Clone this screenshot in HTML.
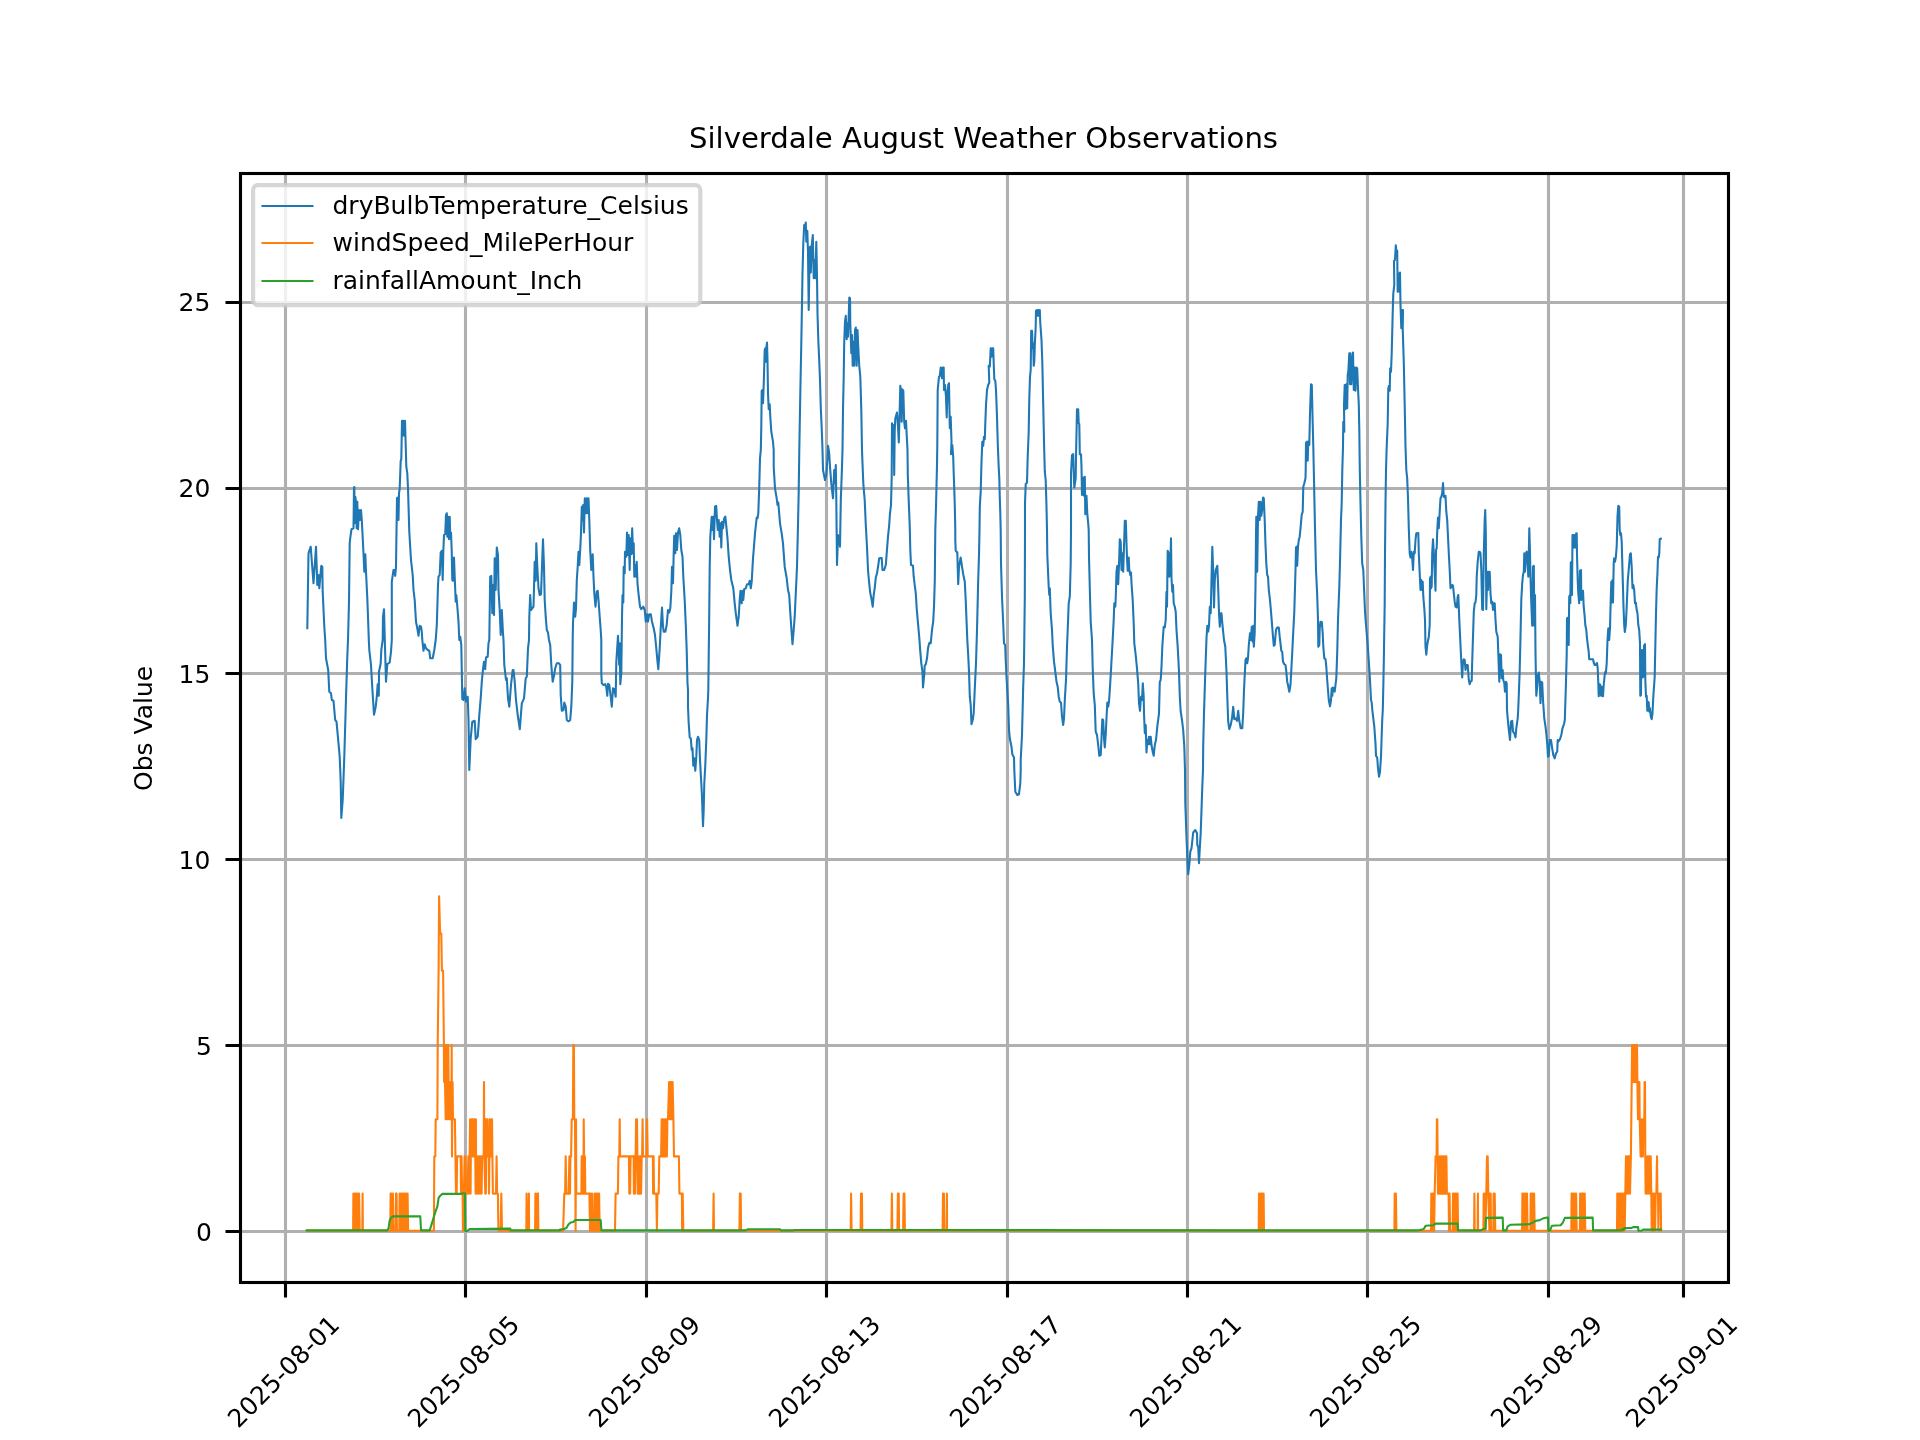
<!DOCTYPE html>
<html><head><meta charset="utf-8"><title>Silverdale August Weather Observations</title>
<style>html,body{margin:0;padding:0;background:#fff}svg{display:block;will-change:transform}</style></head>
<body>
<svg width="1920" height="1440" viewBox="0 0 1920 1440" font-family="DejaVu Sans, Liberation Sans, sans-serif">
<rect width="1920" height="1440" fill="#fff"/>
<clipPath id="c"><rect x="240.5" y="173.5" width="1488.0" height="1109.0"/></clipPath>
<path d="M285.5 173.5V1282.5M465.5 173.5V1282.5M646.5 173.5V1282.5M826.5 173.5V1282.5M1007.5 173.5V1282.5M1187.5 173.5V1282.5M1367.5 173.5V1282.5M1548.5 173.5V1282.5M1683.5 173.5V1282.5M240.5 1231.5H1728.5M240.5 1045.5H1728.5M240.5 859.5H1728.5M240.5 673.5H1728.5M240.5 488.5H1728.5M240.5 302.5H1728.5" stroke="#b0b0b0" stroke-width="3.1" fill="none"/>
<g clip-path="url(#c)" fill="none" stroke-width="2.08" stroke-linejoin="round" stroke-linecap="square">
<polyline id="blue" stroke="#1f77b4" points="307.3,628.3 308.5,553.3 310.7,546.7 313.5,583.3 316.0,546.7 317.3,585.0 318.5,575.0 319.3,588.3 321.3,565.8 322.3,566.7 322.7,591.7 324.3,626.7 325.2,640.0 326.0,658.3 328.2,670.0 329.3,691.7 331.0,693.3 331.8,700.0 333.5,700.8 335.2,720.0 336.5,721.7 338.5,743.3 339.7,756.7 340.7,781.7 341.3,818.0 342.7,800.0 344.3,756.7 346.0,698.3 347.3,656.7 348.0,640.0 349.0,601.7 349.7,543.3 350.2,538.3 351.5,529.2 353.5,528.3 354.0,487.5 354.3,487.0 354.7,523.3 355.3,496.7 356.0,501.7 356.7,528.3 357.3,501.7 358.0,529.2 359.0,510.0 360.0,520.0 361.0,510.0 361.8,520.0 363.5,553.3 364.3,571.7 365.3,554.2 366.0,571.7 367.3,598.3 368.0,616.7 368.8,640.0 369.3,650.0 371.0,665.0 372.3,688.3 374.0,714.7 375.7,706.7 376.8,696.7 377.7,684.2 378.8,695.8 379.0,671.7 380.7,663.3 381.3,650.0 382.7,640.0 383.0,616.7 384.0,609.2 384.8,640.0 386.0,681.7 387.3,664.2 389.7,662.5 391.0,651.7 391.8,640.0 391.8,581.7 393.5,570.0 394.3,570.0 395.2,575.8 396.0,566.7 396.3,545.0 397.0,498.3 397.7,497.5 398.5,520.0 399.0,493.3 399.7,488.3 400.7,460.8 401.3,459.2 402.0,420.8 402.7,435.8 403.5,420.8 404.3,435.8 405.0,420.8 405.7,445.0 406.3,466.7 407.3,473.3 408.0,488.3 409.3,531.7 410.2,546.7 411.0,560.0 412.7,575.0 413.5,590.0 414.7,600.0 416.0,621.7 417.3,628.3 418.5,635.8 419.7,625.8 421.0,626.7 421.8,631.7 422.3,640.0 423.5,650.8 424.7,644.2 426.0,648.3 427.7,650.0 429.3,650.8 430.2,658.3 432.7,658.3 434.3,650.0 435.7,640.0 436.8,625.0 438.0,585.0 438.5,576.7 439.7,575.0 440.7,552.5 441.8,550.8 442.7,580.0 443.3,551.7 444.0,535.0 445.2,534.2 446.0,515.0 446.8,513.3 447.3,536.7 448.0,516.7 449.0,539.2 449.7,516.7 450.3,538.3 451.0,532.5 451.7,550.0 452.3,580.0 453.0,580.8 454.0,557.5 454.7,576.7 455.7,601.7 456.3,595.0 457.0,602.5 458.5,621.7 459.3,640.0 460.2,636.7 461.3,645.0 462.3,699.2 463.5,700.0 464.7,688.3 466.0,701.7 467.7,696.7 468.5,720.0 469.3,770.0 470.7,738.3 472.3,721.7 474.7,720.8 475.7,739.2 477.7,736.7 478.5,726.7 479.3,715.0 480.7,698.3 481.8,681.7 483.0,669.2 484.0,661.7 485.2,669.2 486.0,657.5 487.7,656.7 488.5,643.3 489.3,640.0 490.2,576.7 491.3,575.8 492.3,613.3 493.0,585.0 494.0,615.0 494.7,558.3 495.7,590.0 496.8,547.5 498.0,555.0 498.5,590.0 499.7,610.0 500.7,635.0 501.8,610.0 503.0,633.3 503.5,640.0 504.3,665.0 506.0,680.0 506.8,678.3 508.0,698.3 509.3,706.7 511.0,685.0 512.7,670.0 513.5,670.0 514.7,681.7 516.0,700.0 517.7,715.0 519.8,729.2 521.8,703.3 524.0,698.3 525.7,678.3 526.8,676.7 528.0,648.3 529.0,640.0 529.3,616.7 530.2,595.0 531.0,610.0 532.3,608.3 533.5,606.7 534.7,561.7 535.7,580.8 536.3,543.3 537.3,566.7 538.5,588.3 539.7,595.0 541.0,594.2 542.0,566.7 543.0,539.2 544.0,566.7 544.7,600.0 545.7,616.7 546.8,630.0 548.0,632.5 549.0,640.0 550.2,645.0 551.3,665.0 552.7,681.7 554.0,675.8 555.2,668.3 556.8,663.3 559.0,663.3 560.2,665.0 560.7,695.0 561.8,710.8 563.5,710.0 564.3,702.5 565.7,706.7 566.8,720.0 568.5,721.3 570.2,720.0 571.3,706.7 572.3,681.7 572.7,640.0 573.0,623.3 574.0,602.5 575.2,616.7 576.0,608.3 576.8,580.0 577.7,566.7 578.5,551.7 579.3,565.0 580.2,550.0 581.0,533.3 581.8,506.7 582.7,520.0 583.2,505.0 584.0,532.5 584.8,498.3 586.0,513.3 586.8,498.3 587.7,513.3 588.5,498.3 589.3,520.0 590.2,550.0 591.3,570.0 592.7,554.2 593.5,576.7 594.3,593.3 595.5,606.7 596.8,591.7 597.7,590.8 598.5,600.0 599.7,616.7 600.7,630.0 601.3,640.0 601.3,673.3 601.8,683.3 603.5,685.0 605.2,684.2 606.3,687.5 607.3,695.8 608.0,683.7 609.3,685.0 610.7,696.7 611.8,706.7 613.0,688.3 614.3,689.2 615.7,696.7 616.3,661.7 618.0,635.8 619.2,665.0 619.7,643.3 620.3,684.2 621.3,673.3 622.0,616.7 622.5,595.0 623.3,602.5 623.7,566.7 624.7,573.3 625.0,551.7 626.3,556.7 627.0,532.5 628.0,555.0 628.7,535.0 629.7,570.0 630.3,538.3 631.3,554.2 632.2,528.3 633.0,553.3 633.7,543.3 634.3,576.7 635.3,565.0 636.0,576.7 636.7,561.7 637.5,583.3 638.3,591.7 640.0,606.7 641.3,609.2 643.3,606.7 644.7,610.0 645.8,621.7 647.0,614.2 648.0,621.7 649.2,614.2 650.8,614.2 652.0,621.7 653.7,628.3 655.0,635.0 656.3,648.3 657.5,661.7 658.3,669.2 659.7,648.3 660.8,626.7 662.0,607.5 663.0,626.7 663.7,631.7 665.3,631.7 666.7,625.0 668.0,610.0 669.2,612.5 670.3,608.3 671.3,591.7 672.0,566.7 673.0,583.3 673.7,553.3 674.2,535.8 675.3,553.3 676.0,533.3 677.0,550.0 678.0,532.5 679.2,528.3 680.3,535.0 681.3,550.0 682.5,556.7 683.3,576.7 684.7,600.0 685.8,625.0 686.7,650.0 687.5,683.3 688.0,690.0 688.0,706.7 688.7,723.3 689.7,737.5 690.8,738.3 691.7,750.0 692.5,748.3 693.3,765.8 694.2,758.3 695.3,770.8 696.3,756.7 697.0,740.0 698.0,736.7 699.2,740.0 700.0,760.0 701.3,783.3 702.0,796.7 703.0,826.3 703.7,810.0 704.3,783.3 705.3,765.0 706.3,740.0 707.0,715.0 708.0,698.3 708.3,690.0 709.2,616.7 709.7,566.7 710.3,536.7 711.7,516.7 712.5,530.0 713.3,516.7 714.0,539.2 715.0,506.7 716.2,505.8 717.0,520.0 717.8,530.0 718.7,520.0 719.7,536.7 720.5,523.3 721.3,547.5 722.0,521.7 723.0,528.3 724.2,518.3 725.3,516.7 726.2,525.0 727.5,538.3 728.7,556.7 730.0,570.0 731.3,580.0 733.3,588.3 734.7,603.3 735.8,613.3 737.5,625.8 738.7,616.7 739.7,600.0 740.5,590.8 741.7,603.3 742.5,590.8 743.3,600.0 744.2,589.2 745.8,588.3 747.0,584.2 748.7,584.2 749.7,580.8 750.8,588.3 751.7,581.7 753.0,558.3 753.7,550.0 755.0,533.3 756.7,517.5 757.5,518.3 758.3,513.3 759.2,488.3 760.0,458.3 760.8,450.0 761.3,426.7 761.7,390.8 762.3,390.0 763.0,403.3 763.7,385.0 764.7,350.0 765.3,348.3 765.8,361.7 766.3,348.3 767.0,342.5 767.5,360.0 768.0,393.3 768.7,409.2 769.7,404.2 770.3,416.7 771.3,431.7 773.0,441.7 773.7,450.0 773.7,466.7 775.0,488.3 776.7,498.3 777.5,505.0 778.3,502.5 780.0,523.3 781.7,533.3 783.0,543.3 784.7,566.7 786.7,578.3 788.0,590.0 789.2,595.0 790.3,613.3 791.7,633.3 792.5,644.2 793.3,635.0 794.7,616.7 795.8,593.3 797.0,566.7 798.0,525.0 798.7,491.7 799.3,450.0 799.7,426.7 800.3,393.3 801.3,343.3 802.0,303.3 802.5,273.3 803.3,243.3 804.2,225.0 805.0,226.7 805.8,222.5 806.3,241.7 807.3,230.8 808.0,251.7 808.7,310.0 809.3,273.3 810.0,246.7 810.8,272.5 811.7,245.8 812.8,235.0 813.7,278.3 814.7,260.0 815.3,278.3 816.3,241.7 817.0,276.7 817.5,313.3 818.3,340.0 819.2,360.0 820.0,380.0 820.8,408.3 821.7,428.3 822.5,450.0 823.0,470.0 825.0,480.0 826.3,475.0 827.5,458.3 828.0,445.8 828.7,450.0 829.2,453.3 830.0,466.7 831.3,483.3 833.0,498.3 834.2,470.0 835.0,483.3 835.8,465.0 836.3,500.0 837.0,565.0 838.0,535.0 839.2,536.7 840.0,546.7 840.8,500.0 842.0,466.7 842.5,450.0 843.0,410.0 843.7,376.7 844.2,343.3 845.0,321.7 845.8,315.8 846.7,339.2 847.5,323.3 848.0,336.7 848.7,316.7 849.3,297.5 850.0,298.3 850.3,323.3 851.3,353.3 852.0,335.0 852.7,365.8 853.7,341.7 854.3,365.8 855.0,330.0 855.8,327.5 856.7,365.8 857.5,330.0 858.3,348.3 859.2,365.0 860.3,376.7 861.3,410.0 862.0,450.0 862.3,458.3 863.3,483.3 864.7,500.0 865.8,525.0 867.0,546.7 868.0,570.0 869.2,583.3 870.3,593.3 871.7,600.0 872.7,606.7 873.7,595.0 874.7,588.3 875.8,577.5 877.0,573.3 878.3,565.0 879.2,558.3 881.7,558.0 882.5,570.0 884.2,570.0 885.8,565.0 886.7,553.3 888.0,536.7 889.2,525.0 890.0,513.3 891.0,505.0 891.7,476.7 892.0,423.3 893.0,443.3 893.7,425.0 894.2,475.0 894.7,431.7 895.3,418.3 896.3,415.0 897.0,412.5 898.0,426.7 898.8,442.5 899.7,410.0 900.3,385.8 901.0,390.0 901.7,421.7 902.3,389.2 903.3,390.8 904.2,421.7 905.0,428.3 906.0,420.8 906.7,435.0 907.5,450.0 907.8,475.0 908.7,500.0 909.7,525.0 910.3,550.0 911.0,565.0 913.0,565.8 913.7,576.7 914.7,585.0 915.8,593.3 916.7,608.3 918.0,623.3 919.2,636.7 920.3,651.7 921.3,663.3 922.5,671.7 923.0,687.5 924.2,675.0 924.7,665.8 925.8,664.2 927.0,658.3 928.0,648.3 929.2,643.3 930.0,642.5 930.7,643.3 932.0,630.0 933.2,621.7 934.0,606.7 934.8,580.0 935.3,530.0 936.0,506.7 937.0,465.0 937.3,445.8 937.7,390.0 939.0,376.7 939.8,375.8 940.7,367.5 942.0,378.3 942.7,367.5 943.7,367.5 944.0,390.0 945.0,385.0 946.0,396.7 946.7,417.5 947.3,396.7 948.2,385.0 949.0,383.3 949.3,400.0 949.8,428.3 950.7,416.7 951.5,441.7 951.0,454.2 952.3,445.0 953.2,456.7 953.7,473.3 954.3,490.0 954.8,506.7 955.3,530.0 955.3,540.0 955.7,550.8 957.3,552.5 958.2,584.2 959.0,566.7 960.7,557.5 962.0,566.7 963.2,574.2 964.8,581.7 965.7,600.0 966.5,620.0 967.3,640.0 968.2,655.0 969.0,671.7 969.8,696.7 970.7,705.0 971.5,724.2 972.7,720.0 973.7,713.3 974.8,688.3 976.0,663.3 977.0,630.0 978.2,580.0 979.0,555.0 979.5,530.0 979.8,506.7 980.7,491.7 981.5,461.7 982.3,441.7 983.2,445.8 984.0,436.7 984.8,439.2 985.3,423.3 986.0,405.0 987.0,390.0 988.2,385.0 989.3,382.5 988.7,365.8 989.8,366.7 990.7,348.3 991.5,356.7 992.3,348.3 993.2,348.3 993.7,363.3 994.3,379.2 995.3,380.8 996.0,390.0 997.0,416.7 997.8,445.0 998.7,466.7 999.3,478.3 999.8,498.3 1000.3,513.3 1000.7,530.0 1001.0,563.3 1002.0,596.7 1003.2,623.3 1004.0,643.3 1005.2,645.0 1005.7,660.0 1006.5,676.7 1008.2,705.0 1009.0,730.0 1009.8,738.3 1011.5,746.7 1012.3,754.2 1014.0,757.5 1014.3,770.0 1015.3,791.7 1017.3,795.0 1019.0,794.2 1020.3,783.3 1020.7,770.0 1020.7,760.0 1022.0,735.0 1023.2,686.7 1024.0,663.3 1024.8,596.7 1025.0,530.0 1025.0,503.3 1025.7,484.2 1027.0,482.5 1027.7,456.7 1028.7,431.7 1029.3,398.3 1030.0,376.7 1030.7,370.0 1031.2,330.8 1032.0,330.8 1032.7,348.3 1033.2,343.3 1033.7,365.8 1034.3,361.7 1034.8,345.0 1035.7,326.7 1036.0,310.8 1037.0,310.0 1037.7,315.8 1038.2,310.0 1039.0,315.8 1039.8,310.0 1040.3,323.3 1041.5,340.0 1042.3,361.7 1043.2,403.3 1044.0,441.7 1044.8,471.7 1045.7,480.0 1046.5,506.7 1047.0,530.0 1047.3,555.0 1048.7,586.7 1049.3,595.0 1049.8,588.3 1050.7,613.3 1052.0,630.0 1052.7,645.0 1054.0,661.7 1055.3,671.7 1056.5,681.7 1057.7,686.7 1058.7,696.7 1059.8,701.7 1061.0,702.5 1062.0,716.7 1063.2,725.0 1064.0,718.3 1064.8,700.0 1066.0,680.0 1067.0,646.7 1067.7,630.0 1068.7,603.3 1069.8,596.7 1070.7,563.3 1071.0,530.0 1071.0,473.3 1072.0,455.0 1073.2,454.2 1073.7,473.3 1074.3,487.5 1075.7,478.3 1076.0,456.7 1076.5,433.3 1077.0,409.2 1078.2,409.2 1078.7,423.3 1079.3,424.2 1079.8,454.2 1081.0,454.2 1081.5,466.7 1082.0,495.0 1083.2,477.5 1084.0,495.8 1084.8,476.7 1085.3,514.2 1086.5,495.8 1087.3,514.2 1088.2,523.3 1088.7,530.0 1089.0,556.7 1089.8,588.3 1090.7,621.7 1092.0,640.0 1092.7,668.3 1093.7,693.3 1094.8,705.0 1095.7,731.7 1097.0,735.0 1098.2,745.0 1099.3,755.8 1100.7,755.0 1101.5,738.3 1102.3,719.2 1103.2,720.0 1104.0,738.3 1104.8,747.5 1105.7,735.0 1106.5,718.3 1107.3,702.5 1108.2,706.7 1109.0,701.7 1109.8,690.0 1111.0,670.0 1112.3,646.7 1113.7,620.0 1114.3,603.3 1115.3,606.7 1115.7,599.2 1116.5,571.7 1117.3,565.8 1118.2,584.2 1119.0,565.0 1119.8,539.2 1120.7,541.7 1121.5,570.0 1122.3,553.3 1123.2,571.7 1124.0,546.7 1124.8,520.8 1125.8,520.8 1126.5,543.3 1127.0,558.3 1127.7,570.8 1128.7,557.5 1129.3,570.0 1130.3,575.0 1131.0,572.5 1131.5,583.3 1132.7,600.0 1133.7,623.3 1134.3,643.3 1135.7,655.0 1137.0,668.3 1138.2,683.3 1139.0,703.3 1140.0,710.8 1141.0,696.7 1142.0,700.0 1142.8,683.3 1143.7,696.7 1144.0,713.3 1144.8,733.3 1145.7,725.0 1146.5,752.5 1147.3,740.0 1148.2,744.2 1149.0,736.7 1149.8,744.2 1150.7,736.7 1151.5,745.0 1152.7,751.7 1153.7,755.8 1154.8,745.0 1156.0,740.0 1157.3,726.7 1159.0,713.3 1159.8,681.7 1160.7,680.0 1161.5,666.7 1162.3,646.7 1163.7,626.7 1164.8,627.5 1165.7,620.0 1166.5,591.7 1167.0,606.7 1167.7,550.8 1168.7,553.3 1169.3,576.7 1170.3,565.0 1171.0,538.3 1171.5,578.3 1172.3,591.7 1173.0,585.0 1173.7,603.3 1174.8,606.7 1175.7,611.7 1176.5,630.0 1177.7,646.7 1179.0,671.7 1179.8,696.7 1180.7,711.7 1182.0,720.0 1183.2,730.0 1184.3,746.7 1185.0,770.0 1185.3,803.3 1186.5,836.7 1187.3,856.7 1188.2,874.2 1189.3,865.0 1190.3,851.7 1191.5,848.3 1193.2,832.5 1195.3,830.0 1197.0,833.3 1197.3,845.0 1198.2,846.7 1199.0,863.3 1199.8,848.3 1200.7,833.3 1201.5,810.0 1202.3,786.7 1203.0,770.0 1203.2,746.7 1204.0,713.3 1205.3,671.7 1206.5,638.3 1207.3,625.8 1208.2,631.7 1209.0,625.8 1209.8,606.7 1210.7,613.3 1211.5,580.0 1212.3,546.7 1213.2,571.7 1214.0,607.5 1214.8,580.0 1215.7,570.0 1217.3,565.8 1218.2,588.3 1219.0,613.3 1219.8,626.7 1220.7,613.3 1221.5,613.3 1222.3,623.3 1224.0,640.0 1225.3,646.7 1226.5,671.7 1227.3,696.7 1228.2,721.7 1229.3,729.2 1230.7,725.0 1232.0,718.3 1233.2,706.7 1234.3,719.2 1235.7,718.3 1237.0,720.8 1238.2,710.8 1239.3,720.8 1240.7,728.3 1242.3,728.3 1243.2,713.3 1244.0,690.0 1245.5,660.0 1246.3,658.3 1247.2,663.3 1248.0,658.3 1248.8,645.0 1250.0,633.3 1251.0,640.0 1251.7,626.7 1252.7,641.7 1253.3,625.8 1253.8,646.7 1254.7,633.3 1255.5,586.7 1256.0,536.7 1256.3,516.7 1257.2,571.7 1258.0,516.7 1258.8,501.7 1259.7,520.0 1260.5,501.7 1261.3,515.8 1262.2,510.0 1263.0,497.5 1263.8,498.3 1264.7,520.0 1265.5,545.0 1266.3,563.3 1267.2,575.0 1268.0,576.7 1268.8,590.0 1270.0,600.0 1271.0,611.7 1272.2,626.7 1273.0,636.7 1273.8,645.8 1274.7,645.0 1276.0,630.0 1277.2,627.5 1278.8,627.5 1279.7,636.7 1280.5,643.3 1281.3,650.8 1282.2,651.7 1283.0,661.7 1284.3,664.2 1285.5,665.0 1286.3,671.7 1287.2,681.7 1288.0,685.0 1289.3,691.7 1290.5,685.0 1291.3,670.0 1292.2,653.3 1293.0,636.7 1294.3,611.7 1295.5,570.0 1296.0,547.5 1296.7,546.7 1297.2,565.8 1298.0,546.7 1298.8,540.0 1299.7,536.7 1300.5,528.3 1301.7,515.0 1302.7,511.7 1303.3,486.7 1304.3,483.3 1305.5,478.3 1305.7,470.0 1306.0,442.5 1307.2,441.7 1307.7,460.8 1308.3,441.7 1309.3,445.0 1310.0,413.3 1311.0,384.2 1311.8,385.0 1312.7,423.3 1313.3,446.7 1313.8,470.0 1314.3,495.0 1315.0,528.3 1316.0,570.0 1317.2,595.0 1318.0,620.0 1318.3,646.7 1319.3,645.0 1319.7,628.3 1320.5,621.7 1321.8,622.0 1322.7,633.3 1323.3,646.7 1324.3,658.3 1325.5,659.2 1326.3,666.7 1327.2,680.0 1328.0,690.0 1328.8,700.0 1330.0,706.3 1331.0,700.0 1331.7,688.3 1332.3,695.8 1333.0,687.5 1333.8,688.3 1334.7,691.7 1335.5,685.0 1336.3,678.3 1337.2,653.3 1338.0,620.0 1339.3,586.7 1340.0,561.7 1341.0,520.0 1341.7,503.3 1342.3,470.0 1343.0,446.7 1343.3,421.7 1344.3,431.7 1344.0,405.0 1344.7,385.0 1345.5,409.2 1346.3,384.2 1347.2,408.3 1347.7,375.0 1348.3,371.7 1349.3,353.3 1350.0,384.2 1350.5,353.3 1351.3,384.2 1352.2,363.3 1353.0,352.5 1353.8,390.0 1354.7,367.5 1355.5,390.8 1356.3,367.5 1357.2,368.3 1358.0,388.3 1358.8,405.0 1359.3,430.0 1359.8,470.0 1360.5,503.3 1361.3,536.7 1362.2,563.3 1363.3,570.0 1364.3,595.0 1365.0,611.7 1366.3,628.3 1367.7,645.0 1368.8,661.7 1370.0,680.0 1371.0,700.0 1371.7,702.5 1372.3,710.0 1373.3,718.3 1374.3,726.7 1375.5,743.3 1376.0,755.8 1377.2,757.5 1378.0,768.3 1379.0,776.7 1380.0,771.7 1381.0,756.7 1381.7,735.0 1382.3,718.3 1382.8,710.0 1383.3,686.7 1383.8,661.7 1384.7,603.3 1385.0,553.3 1385.5,503.3 1386.0,470.0 1386.7,446.7 1387.7,423.3 1388.3,388.3 1389.0,385.8 1389.7,390.8 1390.2,368.3 1391.0,371.7 1391.7,353.3 1392.7,313.3 1393.3,293.3 1394.3,285.0 1394.0,260.8 1395.0,260.0 1395.8,245.3 1396.3,250.0 1397.2,250.8 1397.7,291.7 1398.3,273.3 1399.3,291.7 1400.0,272.5 1400.5,305.0 1401.3,328.3 1402.2,310.0 1403.0,310.0 1402.7,328.3 1403.8,363.3 1404.7,405.0 1405.5,446.7 1406.3,470.0 1407.2,478.3 1408.0,498.3 1408.8,528.3 1409.7,553.3 1410.5,557.5 1411.3,551.7 1412.2,557.5 1413.0,570.0 1413.8,551.7 1414.7,553.3 1415.5,540.0 1416.3,533.3 1418.3,533.0 1418.8,553.3 1419.7,573.3 1420.5,590.0 1421.3,580.0 1422.2,590.0 1422.7,581.7 1423.3,596.7 1424.3,608.3 1425.0,620.0 1425.5,646.7 1426.3,654.7 1427.2,645.0 1428.0,640.8 1428.8,636.7 1429.7,625.0 1430.0,578.3 1430.7,576.7 1431.0,588.3 1431.7,586.7 1432.2,553.3 1433.0,539.2 1433.8,553.3 1434.7,573.3 1435.5,590.8 1436.0,550.0 1436.7,548.3 1437.2,531.7 1438.0,517.5 1438.8,528.3 1439.7,511.7 1440.5,498.3 1441.3,496.7 1442.2,493.3 1443.0,483.0 1443.8,496.7 1444.7,497.5 1445.5,495.8 1446.3,511.7 1447.2,520.0 1448.0,536.7 1448.8,553.3 1449.7,570.0 1450.5,588.3 1451.3,586.7 1452.2,585.0 1453.0,585.8 1453.8,593.3 1454.7,601.7 1455.5,606.7 1456.7,607.5 1457.7,596.7 1458.3,595.0 1459.3,620.0 1460.5,645.0 1461.3,661.7 1462.2,677.5 1463.0,661.7 1463.8,659.2 1464.7,660.0 1465.5,670.0 1466.3,665.0 1467.7,665.0 1468.8,680.0 1469.7,684.2 1470.5,681.7 1471.7,680.8 1472.2,661.7 1473.0,636.7 1473.8,611.7 1474.7,603.3 1475.5,602.5 1476.3,595.0 1476.7,576.7 1477.7,561.7 1478.8,551.7 1479.7,551.7 1480.5,553.3 1481.3,570.0 1482.2,609.2 1483.0,610.0 1483.8,553.3 1484.7,520.0 1485.2,510.0 1485.8,531.7 1486.3,609.2 1487.2,571.7 1488.0,590.0 1488.8,571.7 1489.7,571.7 1490.5,593.3 1491.3,603.3 1492.2,601.7 1493.0,610.0 1493.8,603.3 1494.7,603.3 1495.5,620.0 1496.3,631.7 1497.7,636.7 1498.3,653.3 1499.3,681.7 1500.0,654.2 1501.0,655.0 1501.7,678.3 1502.7,670.0 1503.3,680.0 1504.3,683.3 1505.0,691.7 1506.0,681.7 1506.7,683.3 1507.0,710.0 1507.7,718.3 1508.8,730.0 1510.0,740.0 1511.0,721.7 1512.2,720.8 1513.0,731.7 1514.3,733.3 1515.5,737.5 1516.3,728.3 1517.7,718.3 1518.2,710.0 1518.8,695.0 1519.7,670.0 1520.5,636.7 1521.3,600.0 1522.2,583.3 1523.0,575.0 1523.8,571.7 1524.3,553.3 1525.0,571.7 1526.0,553.3 1526.7,551.7 1527.7,565.0 1528.3,576.7 1529.3,528.3 1530.0,553.3 1530.5,576.7 1531.3,603.3 1532.2,625.8 1533.0,566.7 1533.8,565.8 1534.3,625.8 1535.0,595.0 1535.5,653.3 1536.3,695.8 1537.2,686.7 1538.0,675.0 1538.8,672.5 1539.7,681.7 1540.5,703.3 1541.3,681.7 1542.2,682.5 1543.0,700.0 1543.7,710.0 1544.3,718.3 1545.5,726.7 1546.3,733.3 1547.2,743.3 1548.0,756.7 1548.8,755.8 1549.7,740.0 1551.0,740.0 1552.2,748.3 1553.3,755.0 1554.7,758.3 1556.0,753.3 1557.2,751.7 1557.7,740.0 1558.3,741.7 1560.0,739.2 1561.3,735.0 1562.5,728.3 1564.2,723.3 1564.8,720.0 1565.8,688.3 1566.7,655.0 1567.0,618.3 1568.0,617.5 1568.7,645.0 1569.2,596.7 1570.0,595.0 1570.3,603.3 1570.8,562.5 1571.7,561.7 1572.0,595.0 1572.5,535.0 1573.3,535.0 1573.8,547.5 1574.7,535.0 1575.3,547.5 1576.2,533.3 1576.7,533.3 1577.0,555.0 1577.7,580.0 1578.3,593.3 1579.2,603.3 1580.0,570.8 1581.0,570.0 1581.3,600.0 1582.0,590.8 1583.0,590.8 1583.7,606.7 1584.7,616.7 1585.3,625.0 1586.3,630.0 1587.0,638.3 1588.0,646.7 1588.7,651.7 1589.2,659.2 1590.8,659.2 1593.0,659.2 1593.7,662.5 1594.7,665.0 1595.8,665.0 1597.0,663.0 1597.7,668.3 1598.3,683.3 1598.7,696.3 1599.7,684.2 1600.3,685.0 1601.0,695.8 1601.7,686.7 1602.2,688.3 1603.0,696.3 1603.7,685.0 1604.7,675.0 1605.3,671.7 1605.8,673.3 1606.7,663.3 1607.5,640.0 1608.3,628.3 1609.2,640.0 1610.0,628.3 1610.8,596.7 1611.3,581.7 1612.0,602.5 1612.5,580.0 1613.0,602.5 1613.7,563.3 1614.2,558.3 1615.0,561.7 1615.8,557.5 1616.7,546.7 1617.5,516.7 1618.3,505.8 1619.2,506.7 1619.7,530.0 1620.3,535.0 1621.0,533.3 1621.7,541.7 1622.3,563.3 1623.0,588.3 1623.5,606.7 1624.2,625.0 1624.8,632.0 1625.8,625.0 1626.7,606.7 1627.8,580.0 1629.0,566.7 1630.0,554.2 1630.8,553.3 1631.7,566.7 1632.5,588.3 1633.3,585.0 1634.2,590.0 1635.0,603.3 1635.8,602.5 1636.7,610.0 1637.5,613.3 1638.3,625.0 1639.2,630.0 1640.0,643.3 1640.3,695.8 1641.0,695.0 1641.3,650.8 1642.0,650.0 1642.7,677.5 1643.3,676.7 1644.0,645.8 1645.0,644.2 1645.3,680.0 1646.0,696.7 1646.7,695.8 1647.3,710.8 1648.0,701.7 1648.7,702.5 1649.3,711.7 1650.0,708.3 1650.8,716.7 1651.7,719.2 1652.5,713.3 1653.3,696.7 1654.7,676.7 1655.3,646.7 1656.0,613.3 1656.7,588.3 1657.5,571.7 1658.0,556.7 1658.7,557.5 1659.3,553.3 1659.7,539.2 1660.8,538.7"/>
<polyline id="orange" stroke="#ff7f0e" points="307.4,1230.7 353.1,1230.7 353.4,1193.6 354.0,1230.7 354.6,1193.6 355.1,1230.7 355.7,1193.6 356.3,1230.7 356.9,1193.6 357.4,1230.7 358.0,1193.6 358.6,1230.7 359.1,1193.6 359.7,1230.7 360.1,1230.7 362.3,1230.7 362.6,1193.6 362.9,1230.7 390.3,1230.7 390.6,1193.6 391.1,1230.7 391.7,1193.6 392.3,1230.7 392.9,1193.6 393.6,1230.7 395.7,1230.7 396.0,1193.6 396.3,1230.7 396.6,1193.6 396.9,1230.7 399.3,1230.7 399.6,1193.6 400.1,1230.7 400.7,1193.6 401.3,1230.7 401.9,1193.6 402.4,1230.7 403.0,1193.6 403.6,1230.7 404.1,1193.6 404.7,1230.7 405.3,1193.6 405.9,1230.7 406.4,1193.6 407.0,1230.7 407.6,1193.6 408.1,1230.7 408.9,1230.7 433.9,1230.7 434.3,1156.4 435.3,1156.4 435.7,1119.3 437.4,1119.3 437.7,1045.0 438.6,970.7 439.1,896.4 440.1,933.6 441.3,933.6 441.9,970.7 443.1,970.7 443.9,1045.0 444.1,1082.1 444.6,1045.0 445.0,1082.1 445.7,1119.3 446.0,1082.1 446.3,1119.3 446.4,1045.0 446.9,1082.1 447.4,1119.3 448.0,1082.1 448.3,1045.0 448.6,1082.1 449.1,1119.3 449.7,1082.1 450.3,1119.3 450.9,1082.1 451.4,1119.3 451.7,1045.0 452.0,1156.4 452.3,1119.3 452.6,1082.1 453.0,1119.3 453.6,1119.3 454.9,1119.3 456.0,1193.6 456.3,1156.4 456.7,1193.6 457.1,1156.4 457.4,1156.4 460.7,1156.4 461.0,1193.6 461.6,1156.4 462.1,1193.6 462.6,1193.6 463.0,1230.7 463.4,1230.7 463.9,1193.6 464.6,1156.4 465.4,1156.4 466.0,1193.6 467.4,1193.6 468.4,1156.4 469.0,1193.6 469.6,1156.4 470.1,1119.3 470.6,1193.6 471.0,1119.3 471.3,1119.3 471.9,1156.4 472.4,1119.3 473.0,1156.4 473.6,1119.3 474.1,1156.4 474.7,1119.3 475.3,1156.4 475.6,1193.6 475.9,1119.3 476.1,1193.6 476.4,1156.4 477.0,1193.6 477.6,1156.4 478.1,1193.6 478.7,1156.4 479.3,1193.6 479.9,1156.4 480.4,1193.6 481.0,1156.4 481.6,1193.6 482.1,1156.4 482.9,1156.4 483.7,1156.4 484.0,1082.1 484.3,1156.4 485.3,1193.6 485.6,1119.3 485.9,1193.6 486.3,1119.3 486.9,1156.4 487.4,1119.3 488.0,1156.4 488.7,1156.4 489.0,1193.6 489.4,1156.4 489.7,1119.3 490.3,1156.4 490.9,1119.3 491.4,1156.4 492.0,1119.3 492.4,1156.4 492.9,1193.6 496.0,1193.6 496.6,1156.4 497.1,1193.6 497.9,1193.6 498.4,1230.7 500.6,1230.7 501.3,1193.6 502.0,1230.7 526.3,1230.7 526.6,1193.6 526.9,1230.7 528.6,1230.7 528.9,1193.6 529.1,1230.7 535.1,1230.7 535.4,1193.6 535.7,1230.7 537.1,1230.7 537.4,1193.6 537.7,1230.7 538.0,1193.6 538.4,1230.7 563.1,1230.7 564.3,1193.6 565.1,1193.6 565.7,1156.4 566.3,1193.6 568.6,1193.6 569.4,1156.4 570.0,1193.6 570.4,1156.4 571.1,1156.4 571.7,1119.3 572.9,1119.3 573.3,1045.0 573.9,1045.0 574.3,1119.3 575.0,1119.3 575.6,1230.7 576.0,1119.3 576.3,1193.6 581.4,1193.6 581.7,1156.4 582.3,1193.6 582.9,1156.4 583.4,1193.6 583.7,1119.3 584.1,1156.4 584.4,1193.6 584.9,1156.4 585.3,1193.6 585.7,1193.6 589.4,1193.6 590.0,1230.7 590.3,1193.6 590.6,1230.7 591.7,1230.7 592.1,1193.6 592.6,1230.7 594.3,1230.7 594.6,1193.6 595.1,1230.7 595.7,1193.6 596.3,1230.7 596.9,1193.6 597.4,1230.7 598.0,1193.6 598.6,1230.7 599.1,1193.6 599.7,1230.7 600.0,1230.7 615.0,1230.7 615.6,1193.6 617.9,1193.6 618.4,1156.4 619.3,1156.4 619.7,1119.3 620.1,1156.4 628.9,1156.4 629.3,1193.6 629.7,1156.4 630.1,1193.6 630.6,1156.4 633.6,1156.4 633.9,1193.6 634.4,1156.4 635.0,1193.6 635.6,1156.4 636.1,1119.3 636.6,1156.4 637.0,1119.3 637.4,1156.4 637.7,1193.6 638.3,1156.4 638.9,1193.6 639.4,1156.4 640.0,1193.6 640.6,1156.4 641.1,1193.6 641.7,1156.4 642.1,1156.4 642.6,1119.3 643.0,1156.4 646.6,1156.4 647.1,1119.3 647.7,1156.4 652.9,1156.4 653.1,1193.6 653.6,1156.4 654.0,1193.6 654.6,1193.6 656.3,1193.6 656.9,1230.7 657.4,1193.6 658.7,1193.6 659.3,1156.4 661.1,1156.4 661.7,1119.3 662.3,1156.4 662.9,1119.3 663.4,1156.4 664.0,1119.3 664.6,1156.4 665.1,1119.3 665.7,1156.4 666.3,1119.3 666.9,1156.4 667.4,1119.3 668.0,1119.3 669.1,1082.1 669.7,1119.3 670.3,1082.1 670.9,1119.3 671.4,1082.1 672.0,1119.3 672.6,1082.1 673.4,1119.3 674.0,1156.4 678.9,1156.4 679.4,1193.6 681.9,1193.6 682.1,1230.7 682.7,1193.6 683.3,1230.7 684.0,1230.7 713.1,1230.7 713.6,1193.6 714.0,1230.7 739.4,1230.7 739.9,1193.6 740.3,1230.7 740.7,1193.6 741.1,1230.7 850.7,1230.7 851.1,1193.6 851.6,1230.7 860.6,1230.7 861.0,1193.6 861.9,1193.6 862.3,1230.7 891.4,1230.7 891.9,1193.6 892.3,1230.7 897.4,1230.7 897.9,1193.6 898.7,1193.6 899.1,1230.7 903.1,1230.7 903.6,1193.6 904.4,1193.6 904.9,1230.7 942.6,1230.7 943.0,1193.6 943.4,1230.7 943.9,1193.6 944.3,1230.7 946.6,1230.7 946.9,1193.6 947.1,1230.7 1258.7,1230.7 1259.0,1193.6 1259.6,1230.7 1260.1,1193.6 1260.7,1230.7 1261.3,1193.6 1261.9,1230.7 1262.4,1193.6 1263.0,1230.7 1263.6,1193.6 1264.0,1230.7 1394.4,1230.7 1394.7,1193.6 1395.3,1230.7 1395.9,1193.6 1396.4,1230.7 1397.0,1230.7 1431.0,1230.7 1431.3,1193.6 1431.9,1230.7 1432.4,1193.6 1433.0,1230.7 1433.6,1193.6 1434.1,1230.7 1434.7,1193.6 1435.6,1156.4 1436.6,1156.4 1436.9,1119.3 1437.3,1119.3 1437.6,1156.4 1437.9,1193.6 1438.4,1156.4 1439.0,1193.6 1439.6,1156.4 1440.1,1193.6 1440.7,1156.4 1441.3,1193.6 1441.9,1156.4 1442.4,1193.6 1443.0,1156.4 1443.6,1193.6 1444.1,1156.4 1444.7,1193.6 1445.3,1156.4 1445.9,1193.6 1446.4,1156.4 1446.9,1193.6 1448.6,1193.6 1449.0,1230.7 1449.6,1193.6 1450.1,1230.7 1450.9,1230.7 1452.7,1230.7 1453.0,1193.6 1453.6,1230.7 1454.1,1193.6 1454.7,1230.7 1455.3,1193.6 1455.9,1230.7 1456.4,1193.6 1457.0,1230.7 1457.6,1193.6 1458.1,1230.7 1474.1,1230.7 1474.4,1193.6 1474.7,1230.7 1477.6,1230.7 1477.9,1193.6 1478.1,1230.7 1483.4,1230.7 1483.7,1193.6 1484.3,1230.7 1484.9,1193.6 1485.4,1230.7 1486.3,1193.6 1487.0,1156.4 1487.7,1156.4 1488.3,1193.6 1489.4,1230.7 1489.9,1193.6 1490.3,1230.7 1490.7,1193.6 1491.0,1230.7 1493.3,1230.7 1493.6,1193.6 1494.1,1230.7 1494.7,1193.6 1495.3,1230.7 1496.0,1230.7 1522.1,1230.7 1522.4,1193.6 1523.0,1230.7 1523.6,1193.6 1524.1,1230.7 1524.7,1193.6 1525.3,1230.7 1525.9,1193.6 1526.4,1230.7 1527.0,1193.6 1527.6,1230.7 1528.0,1230.7 1530.4,1230.7 1530.7,1193.6 1531.3,1230.7 1531.9,1193.6 1532.4,1230.7 1533.0,1193.6 1533.6,1230.7 1534.1,1193.6 1534.7,1230.7 1535.1,1230.7 1571.3,1230.7 1571.6,1193.6 1572.1,1230.7 1572.7,1193.6 1573.3,1230.7 1573.9,1193.6 1574.4,1230.7 1575.0,1193.6 1575.6,1230.7 1576.1,1193.6 1576.7,1230.7 1577.0,1230.7 1579.9,1230.7 1580.1,1193.6 1580.7,1230.7 1581.3,1193.6 1581.9,1230.7 1582.4,1193.6 1583.0,1230.7 1583.6,1193.6 1584.1,1230.7 1584.7,1193.6 1585.3,1230.7 1585.9,1230.7 1617.0,1230.7 1617.3,1193.6 1617.9,1230.7 1618.4,1193.6 1619.0,1230.7 1619.6,1193.6 1620.1,1230.7 1620.7,1193.6 1621.3,1230.7 1621.9,1193.6 1622.4,1230.7 1623.0,1193.6 1623.6,1230.7 1624.1,1193.6 1624.7,1230.7 1625.3,1193.6 1626.0,1156.4 1626.6,1193.6 1627.1,1156.4 1627.7,1193.6 1628.3,1156.4 1628.9,1193.6 1629.4,1156.4 1630.0,1193.6 1630.9,1156.4 1632.1,1045.0 1633.0,1082.1 1633.6,1045.0 1634.1,1082.1 1634.7,1045.0 1635.3,1082.1 1635.9,1045.0 1636.4,1082.1 1637.0,1045.0 1637.4,1082.1 1638.0,1119.3 1638.6,1119.3 1638.9,1082.1 1639.4,1082.1 1639.7,1119.3 1640.6,1156.4 1641.1,1119.3 1641.7,1156.4 1642.3,1119.3 1642.9,1156.4 1643.4,1119.3 1644.3,1119.3 1644.6,1082.1 1645.0,1082.1 1645.3,1156.4 1645.6,1193.6 1646.1,1156.4 1646.7,1193.6 1647.3,1156.4 1647.9,1193.6 1648.4,1156.4 1649.0,1193.6 1649.6,1156.4 1650.1,1193.6 1650.7,1156.4 1651.3,1193.6 1651.7,1230.7 1652.3,1193.6 1652.9,1230.7 1653.4,1193.6 1654.0,1230.7 1654.6,1193.6 1655.1,1230.7 1655.7,1193.6 1656.4,1193.6 1657.0,1156.4 1657.4,1193.6 1658.0,1193.6 1658.4,1230.7 1659.0,1193.6 1660.7,1193.6 1661.1,1230.7"/>
<polyline id="green" stroke="#2ca02c" points="306.7,1230.4 387.4,1230.4 388.6,1227.9 389.6,1220.7 391.0,1217.9 393.1,1216.4 420.3,1216.4 421.0,1230.4 429.6,1230.4 431.0,1226.4 433.1,1219.3 435.3,1212.1 437.4,1206.4 438.6,1197.9 440.3,1195.7 442.4,1193.9 461.7,1193.9 462.4,1193.3 464.9,1193.3 465.3,1231.0 467.4,1231.0 469.6,1229.0 510.3,1228.6 510.6,1230.4 560.0,1230.4 560.0,1229.6 564.3,1229.0 566.4,1227.9 568.6,1224.3 570.7,1222.4 573.6,1221.9 575.0,1220.0 600.7,1220.0 601.4,1230.4 745.7,1230.4 747.9,1229.3 780.0,1229.3 781.1,1230.4 792.9,1230.4 794.3,1230.0 833.6,1230.0 1352.0,1230.4 1417.7,1230.4 1422.0,1229.6 1424.1,1228.6 1425.6,1225.7 1433.4,1225.3 1435.6,1223.6 1457.7,1223.6 1458.0,1230.4 1480.6,1230.4 1482.7,1229.3 1485.6,1228.6 1486.0,1217.9 1502.7,1217.6 1503.1,1230.4 1506.3,1230.4 1507.7,1226.4 1510.6,1224.7 1529.1,1224.3 1533.4,1222.4 1535.6,1220.7 1539.1,1220.4 1542.7,1218.6 1547.0,1217.6 1548.0,1217.6 1548.4,1230.7 1549.9,1230.7 1552.0,1225.7 1560.6,1225.3 1562.7,1222.9 1564.9,1217.9 1592.7,1217.6 1593.1,1230.4 1620.6,1230.4 1622.7,1229.0 1625.6,1227.9 1622.4,1230.4 1624.6,1228.1 1631.7,1227.9 1633.1,1227.1 1638.1,1227.1 1638.4,1230.7 1641.7,1230.7 1643.1,1229.6 1661.0,1229.6"/>
</g>
<path d="M285.5 1282.5v15M465.5 1282.5v15M646.5 1282.5v15M826.5 1282.5v15M1007.5 1282.5v15M1187.5 1282.5v15M1367.5 1282.5v15M1548.5 1282.5v15M1683.5 1282.5v15M240.5 1231.5h-15M240.5 1045.5h-15M240.5 859.5h-15M240.5 673.5h-15M240.5 488.5h-15M240.5 302.5h-15" stroke="#000" stroke-width="3.1" fill="none"/>
<rect x="240.5" y="173.5" width="1488.0" height="1109.0" fill="none" stroke="#000" stroke-width="3.1"/>
<g font-size="25" fill="#000">
<text x="211.8" y="1240.8" text-anchor="end">0</text>
<text x="211.8" y="1054.8" text-anchor="end">5</text>
<text x="210.4" y="868.8" text-anchor="end">10</text>
<text x="210.4" y="682.8" text-anchor="end">15</text>
<text x="210.4" y="496.8" text-anchor="end">20</text>
<text x="210.4" y="311.1" text-anchor="end">25</text>
<text transform="translate(283.2,1371.2) rotate(-45)" text-anchor="middle" y="9">2025-08-01</text>
<text transform="translate(463.2,1371.2) rotate(-45)" text-anchor="middle" y="9">2025-08-05</text>
<text transform="translate(644.2,1371.2) rotate(-45)" text-anchor="middle" y="9">2025-08-09</text>
<text transform="translate(824.2,1371.2) rotate(-45)" text-anchor="middle" y="9">2025-08-13</text>
<text transform="translate(1005.2,1371.2) rotate(-45)" text-anchor="middle" y="9">2025-08-17</text>
<text transform="translate(1185.2,1371.2) rotate(-45)" text-anchor="middle" y="9">2025-08-21</text>
<text transform="translate(1365.2,1371.2) rotate(-45)" text-anchor="middle" y="9">2025-08-25</text>
<text transform="translate(1546.2,1371.2) rotate(-45)" text-anchor="middle" y="9">2025-08-29</text>
<text transform="translate(1681.2,1371.2) rotate(-45)" text-anchor="middle" y="9">2025-09-01</text>
<text transform="translate(152,728.4) rotate(-90)" text-anchor="middle">Obs Value</text>
</g>
<text x="983.5" y="148" font-size="29.17" text-anchor="middle" fill="#000">Silverdale August Weather Observations</text>
<rect x="253.1" y="185.1" width="447.2" height="120" rx="5" ry="5" fill="#fff" fill-opacity="0.8" stroke="#ccc" stroke-opacity="0.8" stroke-width="4.17"/>
<path d="M262.5 206.0h50" stroke="#1f77b4" stroke-width="2.08" stroke-linecap="square"/>
<text x="332.5" y="214.0" font-size="25" fill="#000">dryBulbTemperature_Celsius</text>
<path d="M262.5 243.0h50" stroke="#ff7f0e" stroke-width="2.08" stroke-linecap="square"/>
<text x="332.5" y="251.0" font-size="25" fill="#000">windSpeed_MilePerHour</text>
<path d="M262.5 281.0h50" stroke="#2ca02c" stroke-width="2.08" stroke-linecap="square"/>
<text x="332.5" y="289.0" font-size="25" fill="#000">rainfallAmount_Inch</text>
</svg>
</body></html>
